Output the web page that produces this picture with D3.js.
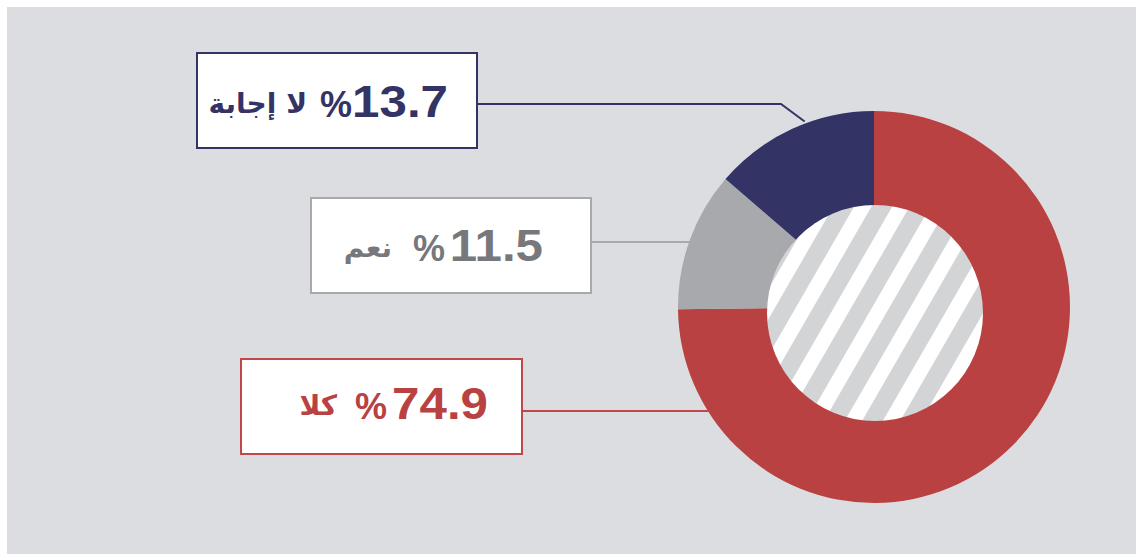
<!DOCTYPE html>
<html>
<head>
<meta charset="utf-8">
<script src="https://cdn.jsdelivr.net/npm/d3@7"></script>
<style>
  html, body { margin: 0; padding: 0; background: #fff; }
  svg { display: block; }
</style>
</head>
<body>
<svg id="chart" width="1136" height="554"></svg>
<script>
// answers, in pie order (clockwise from the top)
var labels = ["كلا", "نعم", "لا إجابة"];
var values = [74.9, 11.5, 13.7];
var sliceColors = ["#ba4141", "#a8a9ac", "#333366"];
var textColors = ["#ba4141", "#77787b", "#333366"];
var borderColors = ["#c04848", "#a8a9ac", "#333366"];

var svg = d3.select("#chart");

svg.append("rect")
	.attr("x", 7).attr("y", 7)
	.attr("width", 1129).attr("height", 547)
	.attr("fill", "#dcdde0");

// hatch for the hole
var defs = svg.append("defs");
var pat = defs.append("pattern")
	.attr("id", "hatch")
	.attr("patternUnits", "userSpaceOnUse")
	.attr("width", 33).attr("height", 33)
	.attr("patternTransform", "rotate(30)");
pat.append("rect").attr("width", 33).attr("height", 33).attr("fill", "#ffffff");
pat.append("rect").attr("width", 18).attr("height", 33).attr("fill", "#d3d4d6");

var cx = 874, cy = 307, R = 196;

var pie = d3.pie().sort(null).value(function(d) { return d; });
var arc = d3.arc().innerRadius(95).outerRadius(R);
var arcs = pie(values);

var g = svg.append("g").attr("transform", "translate(" + cx + "," + cy + ")");
g.selectAll("path")
	.data(arcs)
	.enter()
	.append("path")
	.attr("d", arc)
	.attr("fill", function(d, i) { return sliceColors[i]; });

svg.append("circle")
	.attr("cx", 875).attr("cy", 313).attr("r", 108)
	.attr("fill", "url(#hatch)");

// label boxes (same order as the data)
var boxes = [
	{x: 241, y: 359, w: 281, h: 95, line: 411, num: 488, pct: 387, ar: 337, base: 419},
	{x: 311, y: 198, w: 280, h: 95, line: 242, num: 543, pct: 445, ar: 392, base: 261},
	{x: 197, y: 53, w: 280, h: 95, line: 104, num: 448, pct: 352, ar: 307, base: 117}
];

// leader lines
boxes.forEach(function(b, i) {
	var dy = b.line - cy;
	var pts;
	if (i == 2) {
		// elbow then towards the centre
		var a = 339.5 * Math.PI / 180;
		var ex = cx + (R + 2) * Math.sin(a), ey = cy - (R + 2) * Math.cos(a);
		pts = [[b.x + b.w, b.line], [781, b.line], [ex, ey]];
	} else {
		var ex = cx - Math.sqrt(R * R - dy * dy);
		pts = [[b.x + b.w, b.line], [ex + 2, b.line]];
	}
	svg.append("path")
		.attr("d", d3.line()(pts))
		.attr("fill", "none")
		.attr("stroke", borderColors[i])
		.attr("stroke-width", 2);
});

var lab = svg.selectAll("g.lab")
	.data(boxes)
	.enter()
	.append("g")
	.attr("class", "lab");

lab.append("rect")
	.attr("x", function(d) { return d.x; })
	.attr("y", function(d) { return d.y; })
	.attr("width", function(d) { return d.w; })
	.attr("height", function(d) { return d.h; })
	.attr("fill", "#ffffff")
	.attr("stroke", function(d, i) { return borderColors[i]; })
	.attr("stroke-width", 2);

lab.append("text")
	.attr("transform", function(d) { return "translate(" + d.num + "," + d.base + ") scale(1.12,1)"; })
	.attr("text-anchor", "end")
	.attr("font-family", "Liberation Sans, Arial, sans-serif")
	.attr("font-weight", "bold")
	.attr("font-size", 44)
	.attr("fill", function(d, i) { return textColors[i]; })
	.text(function(d, i) { return values[i].toFixed(1); });

lab.append("text")
	.attr("x", function(d) { return d.pct; })
	.attr("y", function(d) { return d.base; })
	.attr("text-anchor", "end")
	.attr("font-family", "Liberation Sans, Arial, sans-serif")
	.attr("font-weight", "bold")
	.attr("font-size", 36)
	.attr("fill", function(d, i) { return textColors[i]; })
	.text("%");

lab.append("text")
	.attr("x", function(d) { return d.ar; })
	.attr("y", function(d) { return d.base - 4; })
	.attr("text-anchor", "end")
	.attr("font-family", "DejaVu Sans, sans-serif")
	.attr("font-weight", "bold")
	.attr("font-size", 28)
	.attr("fill", function(d, i) { return textColors[i]; })
	.text(function(d, i) { return labels[i]; });
</script>
</body>
</html>
